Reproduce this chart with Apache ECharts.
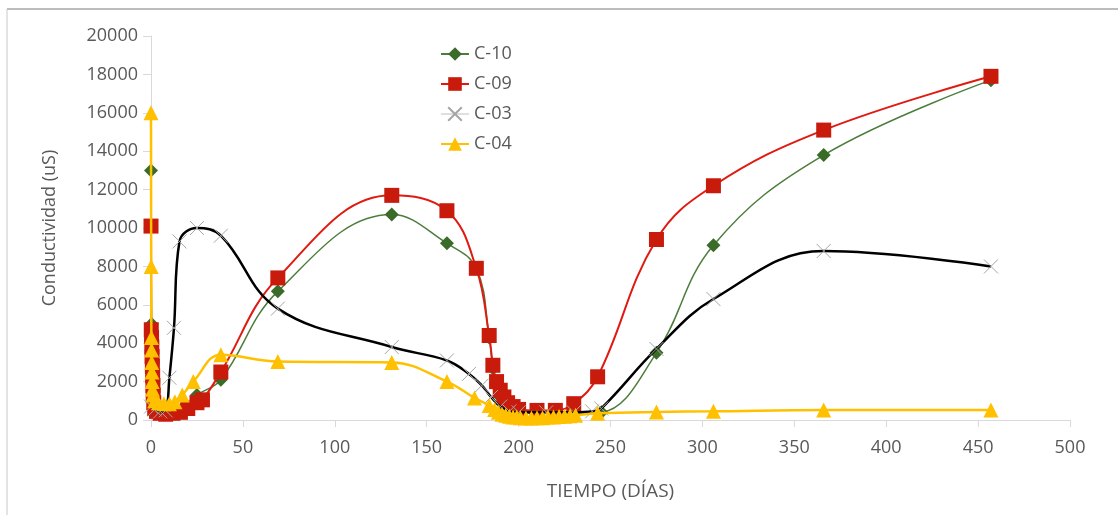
<!DOCTYPE html>
<html>
<head>
<meta charset="utf-8">
<script src="https://cdn.jsdelivr.net/npm/echarts@6/dist/echarts.min.js"></script>
<style>
html,body{margin:0;padding:0;background:#fff;}
#chart{width:1118px;height:515px;}
</style>
</head>
<body>
<div id="chart"></div>
<script>
// ---- Data ----
const c10Days = [0, 0.3, 1, 2, 4, 7, 10, 14, 19, 25, 38, 69, 131, 161, 177, 184, 186, 188, 190, 193, 196, 200, 210, 220, 230, 245, 275, 306, 366, 457];
const c10Vals = [13000, 5000, 1500, 800, 550, 450, 450, 550, 800, 1300, 2100, 6700, 10700, 9200, 7900, 4300, 2700, 1800, 1200, 800, 500, 400, 350, 350, 350, 400, 3500, 9100, 13800, 17700];

const c09Days = [0, 0.15, 0.3, 0.45, 0.6, 0.75, 0.9, 1.05, 1.2, 1.5, 2, 3, 5, 8, 12, 16, 20, 25, 28, 38, 69, 131, 161, 177, 184, 186, 188, 190, 192, 194, 197, 200, 210, 220, 230, 243, 275, 306, 366, 457];
const c09Vals = [10100, 4700, 4300, 3800, 3300, 2800, 2300, 1800, 1300, 900, 600, 450, 350, 300, 350, 400, 600, 900, 1050, 2500, 7400, 11700, 10900, 7900, 4400, 2850, 2000, 1550, 1200, 900, 700, 550, 500, 500, 850, 2250, 9400, 12200, 15100, 17900];

const c03Days = [0, 2, 5, 8, 10, 12.5, 15.5, 25, 38, 69, 131, 161, 173, 180, 185, 190, 195, 200, 215, 230, 240, 245, 275, 306, 366, 457];
const c03Vals = [700, 550, 450, 500, 2200, 4800, 9300, 10000, 9600, 5800, 3800, 3100, 2400, 1800, 1200, 700, 450, 400, 400, 400, 450, 600, 3700, 6300, 8800, 8000];

const c04Days = [0, 0.1, 0.2, 0.3, 0.4, 0.5, 0.6, 0.8, 1, 2, 4, 7, 10, 13, 17, 23, 38, 69, 131, 161, 176, 184, 187, 189, 191, 193, 195, 197, 199, 201, 204, 207, 210, 213, 216, 219, 222, 225, 228, 231, 243, 275, 306, 366, 457];
const c04Vals = [16000, 8000, 4300, 3650, 3000, 2500, 2000, 1600, 1300, 1000, 900, 850, 850, 950, 1300, 2000, 3400, 3050, 3000, 2000, 1150, 750, 550, 400, 300, 250, 200, 150, 150, 120, 100, 100, 120, 120, 150, 150, 180, 200, 220, 250, 350, 420, 450, 520, 520];

const seriesNames = ['C-10', 'C-09', 'C-03', 'C-04'];
const xTicks = { min: 0, max: 500, interval: 50 };
const yTicks = { min: 0, max: 20000, interval: 2000 };

function pairs(d, v) { return d.map((x, i) => [x, v[i]]); }

const FONT = '"Open Sans", "Noto Sans", sans-serif';
const TXT = '#595959';
const AX = '#d9d9d9';
const xPath = 'path://M0,0L10,10M10,0L0,10';
const SMOOTH = 0.4;

const chart = echarts.init(document.getElementById('chart'), null, { renderer: 'canvas' });
chart.setOption({
  backgroundColor: '#ffffff',
  animation: false,
  graphic: [
    { type: 'line', shape: { x1: 7, y1: 9, x2: 1118, y2: 9 }, style: { stroke: '#a6a6a6', lineWidth: 1.5 } },
    { type: 'line', shape: { x1: 7, y1: 9, x2: 7, y2: 515 }, style: { stroke: '#c8c8c8', lineWidth: 1 } }
  ],
  grid: { left: 151, right: 48, top: 36, bottom: 95, containLabel: false },
  legend: {
    orient: 'vertical',
    left: 435, top: 40,
    itemWidth: 28, itemHeight: 17, itemGap: 12,
    textStyle: { color: TXT, fontSize: 18, fontFamily: FONT },
    data: [
      { name: 'C-10' },
      { name: 'C-09' },
      { name: 'C-03', lineStyle: { color: '#bfbfbf', width: 1 } },
      { name: 'C-04' }
    ]
  },
  xAxis: {
    type: 'value',
    min: xTicks.min, max: xTicks.max, interval: xTicks.interval,
    name: 'TIEMPO (DÍAS)', nameLocation: 'middle', nameGap: 62,
    nameTextStyle: { color: TXT, fontSize: 19, fontFamily: FONT },
    axisLine: { show: true, lineStyle: { color: AX, width: 1 } },
    axisTick: { show: true, length: 7, lineStyle: { color: AX } },
    axisLabel: { color: TXT, fontSize: 18, fontFamily: FONT, margin: 19 },
    splitLine: { show: false }
  },
  yAxis: {
    type: 'value',
    min: yTicks.min, max: yTicks.max, interval: yTicks.interval,
    name: 'Conductividad (uS)', nameLocation: 'middle', nameGap: 92, nameRotate: 90,
    nameTextStyle: { color: TXT, fontSize: 18, fontFamily: FONT },
    axisLine: { show: true, lineStyle: { color: AX, width: 1 } },
    axisTick: { show: true, length: 8, lineStyle: { color: AX } },
    axisLabel: { color: TXT, fontSize: 18, fontFamily: FONT, margin: 13, formatter: v => String(v) },
    splitLine: { show: false }
  },
  series: [
    {
      name: seriesNames[0], type: 'line', smooth: SMOOTH,
      data: pairs(c10Days, c10Vals),
      symbol: 'diamond', symbolSize: 14,
      itemStyle: { color: '#3b6b28' },
      lineStyle: { color: '#4c7d3c', width: 1.5 },
      z: 2
    },
    {
      name: seriesNames[1], type: 'line', smooth: SMOOTH,
      data: pairs(c09Days, c09Vals),
      symbol: 'rect', symbolSize: 15,
      itemStyle: { color: '#c81b0c' },
      lineStyle: { color: '#e01a10', width: 2 },
      z: 3
    },
    {
      name: seriesNames[2], type: 'line', smooth: SMOOTH,
      data: pairs(c03Days, c03Vals),
      symbol: xPath, symbolSize: 14,
      itemStyle: { color: 'rgba(0,0,0,0)', borderColor: '#a6a6a6', borderWidth: 1 },
      lineStyle: { color: '#000000', width: 2.5 },
      z: 4
    },
    {
      name: seriesNames[3], type: 'line', smooth: SMOOTH,
      data: pairs(c04Days, c04Vals),
      symbol: 'triangle', symbolSize: 15,
      itemStyle: { color: '#ffc000' },
      lineStyle: { color: '#ffc000', width: 2.5 },
      z: 5
    }
  ]
});
</script>
</body>
</html>
